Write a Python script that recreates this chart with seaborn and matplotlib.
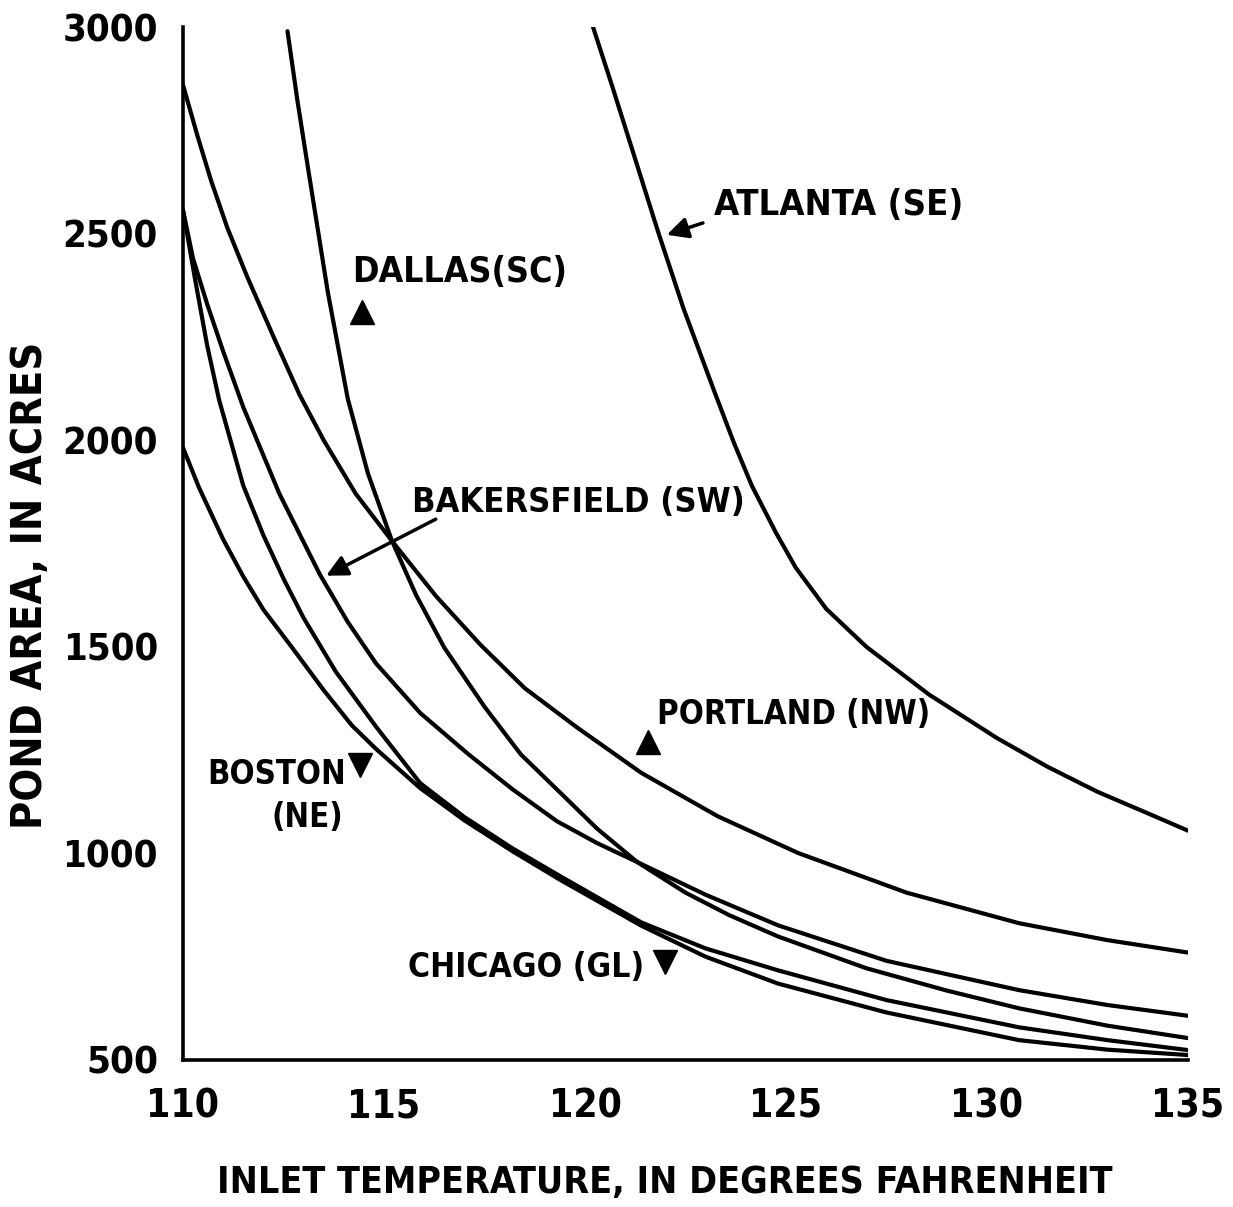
import pandas as pd
import matplotlib
matplotlib.use("Agg")
import matplotlib.pyplot as plt
from matplotlib import font_manager as fm
import seaborn as sns

# Pond area (acres) vs inlet temperature (F)
atlanta_t = [120.2, 120.66, 121.17, 121.81, 122.45, 123.21, 123.7, 124.15, 124.74, 125.24,
             126.0, 127.0, 128.55, 130.25, 131.5, 132.75, 134.0, 135.0]
atlanta_a = [3000, 2862, 2705, 2507, 2319, 2120, 1995, 1890, 1778, 1692,
             1592, 1500, 1385, 1279, 1210, 1149, 1097, 1055]

dallas_t = [112.6, 112.85, 113.1, 113.6, 114.1, 114.6, 115.2, 115.8, 116.5, 117.5, 118.4,
            119.3, 120.3, 121.3, 122.5, 123.6, 124.8, 127.0, 129.0, 130.8, 133.0, 135.0]
dallas_a = [2990, 2820, 2665, 2360, 2100, 1920, 1756, 1625, 1498, 1355, 1240,
            1155, 1060, 979, 905, 850, 799, 722, 668, 625, 583, 553]

portland_t = [110.0, 110.35, 110.7, 111.1, 111.6, 112.3, 112.9, 113.5, 114.3, 115.2, 116.3,
              117.4, 118.5, 119.8, 121.4, 123.3, 125.3, 128.0, 130.8, 133.0, 135.0]
portland_a = [2860, 2740, 2628, 2515, 2395, 2240, 2110, 2000, 1870, 1756, 1622,
              1505, 1400, 1305, 1195, 1090, 1001, 905, 831, 790, 760]

bakers_t = [110.0, 110.25, 110.6, 111.0, 111.5, 112.4, 113.4, 114.1, 114.8, 115.9, 117.1,
            118.2, 119.3, 120.3, 121.3, 123.0, 124.8, 127.5, 130.8, 133.0, 135.0]
bakers_a = [2557, 2440, 2330, 2215, 2080, 1870, 1676, 1560, 1460, 1340, 1240,
            1155, 1078, 1025, 979, 900, 826, 740, 669, 633, 607]

boston_t = [110.0, 110.3, 110.6, 110.9, 111.5, 112.0, 112.5, 113.0, 113.8, 114.8, 115.9,
            117.0, 118.2, 119.4, 121.4, 123.0, 124.8, 127.5, 130.8, 133.0, 135.0]
boston_a = [2557, 2390, 2230, 2097, 1890, 1770, 1665, 1570, 1440, 1307, 1170,
            1088, 1012, 944, 833, 770, 717, 645, 579, 548, 524]

chicago_t = [110.0, 110.4, 111.0, 111.5, 112.0, 112.7, 113.5, 114.2, 114.8, 115.9, 117.0,
             118.2, 119.4, 121.4, 123.0, 124.8, 127.5, 130.8, 133.0, 135.0]
chicago_a = [1982, 1885, 1760, 1670, 1590, 1500, 1395, 1310, 1253, 1158, 1080,
             1005, 935, 825, 750, 685, 615, 548, 525, 512]

x_ticks = [110, 115, 120, 125, 130, 135]
y_ticks = [500, 1000, 1500, 2000, 2500, 3000]

curves = {
    "ATLANTA": (atlanta_t, atlanta_a),
    "DALLAS": (dallas_t, dallas_a),
    "PORTLAND": (portland_t, portland_a),
    "BAKERSFIELD": (bakers_t, bakers_a),
    "BOSTON": (boston_t, boston_a),
    "CHICAGO": (chicago_t, chicago_a),
}
df = pd.concat(
    [pd.DataFrame({"city": k, "temp": t, "area": a}) for k, (t, a) in curves.items()],
    ignore_index=True,
)

sns.set_style("white")
plt.rcParams["font.family"] = ["Liberation Sans", "DejaVu Sans"]
plt.rcParams["font.weight"] = "bold"
plt.rcParams["text.color"] = "black"


# the scan uses a narrow bold lettering; take a condensed bold face if one is installed
def pick_narrow():
    best = None
    for f in fm.fontManager.ttflist:
        n = (f.name + " " + f.fname).lower()
        if "mono" in n or "serif" in n or "italic" in n or "oblique" in n:
            continue
        w = f.weight if isinstance(f.weight, int) else (700 if "bold" in str(f.weight) else 400)
        if w < 600:
            continue
        if "narrow" in n or "condensed" in n or f.stretch in ("condensed", "semi-condensed"):
            if "semi" in n or "extra" in n:
                continue
            if best is None or "liberation" in n:
                best = f.fname
    return best


narrow_file = pick_narrow()
if narrow_file:
    fp = fm.FontProperties(fname=narrow_file)
else:
    fp = fm.FontProperties(family="Liberation Sans", weight="bold")

fig = plt.figure(figsize=(12.33, 12.07), dpi=100)
ax = fig.add_axes([0.1484, 0.1218, 0.8151, 0.8558])

sns.lineplot(data=df, x="temp", y="area", units="city", estimator=None,
             sort=False, color="black", linewidth=3.0, ax=ax,
             solid_capstyle="round", solid_joinstyle="round")

ax.set_xlim(110, 135)
ax.set_ylim(500, 3000)
ax.set_xticks(x_ticks)
ax.set_yticks(y_ticks)
ax.set_xlabel("")
ax.set_ylabel("")
for s in ["top", "right"]:
    ax.spines[s].set_visible(False)
for s in ["left", "bottom"]:
    ax.spines[s].set_linewidth(2.6)
    ax.spines[s].set_color("black")
ax.tick_params(axis="both", direction="in", length=20, width=2.4,
               colors="black", labelcolor="black")
ax.tick_params(axis="x", pad=20)
ax.tick_params(axis="y", pad=18)

texts = []  # (artist, target width in px, use height instead)
for lab in ax.get_yticklabels():
    lab.set_fontproperties(fp)
    texts.append((lab, 95 if lab.get_text() != "500" else 72, False))

t = fig.text(665 / 1233, 1 - 1183 / 1207, "INLET TEMPERATURE, IN DEGREES FAHRENHEIT",
             ha="center", va="center", fontproperties=fp)
texts.append((t, 894, False))
t = fig.text(30 / 1233, 1 - 585 / 1207, "POND AREA, IN ACRES", rotation=90,
             ha="center", va="center", fontproperties=fp)
texts.append((t, 490, True))

# curve labels: text, x, y, target width
labels = [
    ("ATLANTA (SE)", 123.2, 2569, 250),
    ("DALLAS(SC)", 114.2, 2407, 216),
    ("BAKERSFIELD (SW)", 115.7, 1850, 333),
    ("PORTLAND (NW)", 121.8, 1335, 273),
    ("CHICAGO (GL)", 115.6, 723, 237),
]
for s, x, y, w in labels:
    t = ax.text(x, y, s, ha="left", va="center", fontproperties=fp)
    texts.append((t, w, False))

# scale every text so its printed width matches the scan
for art, _, _ in texts:
    art.set_fontsize(24)
r = fig.canvas.get_renderer()
label_sizes = []
for art, target, vert in texts:
    bb = art.get_window_extent(r)
    size = bb.height if vert else bb.width
    if size > 0:
        fs = min(24 * target / size, 34)
        art.set_fontsize(fs)
        if art.get_text() in [l[0] for l in labels]:
            label_sizes.append(fs)
lab_fs = sum(label_sizes) / len(label_sizes)

ax.text(110.6, 1190, "BOSTON", ha="left", va="center", fontproperties=fp, fontsize=lab_fs * 0.95)
ax.text(113.1, 1088, "(NE)", ha="center", va="center", fontproperties=fp, fontsize=lab_fs * 0.95)

for lab in ax.get_xticklabels():
    lab.set_fontproperties(fp)
    lab.set_fontsize(28)

arrow_kw = dict(arrowstyle="-|>", color="black", lw=2.5, mutation_scale=32)
ax.annotate("", xy=(121.97, 2495), xytext=(123.0, 2528), arrowprops=arrow_kw)
ax.annotate("", xy=(113.5, 1669), xytext=(116.35, 1812), arrowprops=arrow_kw)

ax.plot([114.45, 121.57], [2310, 1270], ls="none", marker="^", ms=17, color="black")
ax.plot([114.4, 122.0], [1214, 737], ls="none", marker="v", ms=17, color="black")

fig.savefig("out.png", dpi=100, facecolor="white")
